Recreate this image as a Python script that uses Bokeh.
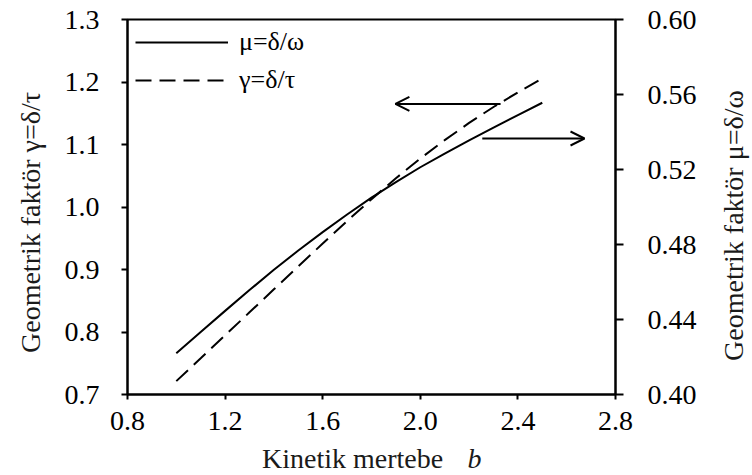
import math
from bokeh.plotting import figure
from bokeh.models import (Range1d, LinearAxis, FixedTicker, PrintfTickFormatter,
                          Legend, LegendItem, Label, Arrow, OpenHead)
from bokeh.embed import file_html
from bokeh.resources import INLINE

# ---- data ----
b_values = [1.0, 1.1, 1.2, 1.3, 1.4, 1.5, 1.6, 1.7, 1.8, 1.9, 2.0, 2.1, 2.2, 2.3, 2.4, 2.5]
mu_values = [0.4220, 0.4333, 0.4446, 0.4557, 0.4665, 0.4768, 0.4866, 0.4960,
             0.5050, 0.5133, 0.5212, 0.5285, 0.5355, 0.5423, 0.5490, 0.5556]
gamma_values = [0.7214, 0.7580, 0.7947, 0.8315, 0.8683, 0.9050, 0.9415, 0.9775,
                1.0125, 1.0460, 1.0775, 1.1070, 1.1345, 1.1600, 1.1835, 1.2055]

x_ticks = [0.8, 1.2, 1.6, 2.0, 2.4, 2.8]
left_ticks = [0.7, 0.8, 0.9, 1.0, 1.1, 1.2, 1.3]
right_ticks = [0.40, 0.44, 0.48, 0.52, 0.56, 0.60]

mu_label = "μ=δ/ω"
gamma_label = "γ=δ/τ"
x_title = "Kinetik mertebe"
x_title_var = "b"
left_title = "Geometrik faktör γ=δ/τ"
right_title = "Geometrik faktör μ=δ/ω"

FONT = "'Liberation Serif', 'Times New Roman', 'DejaVu Serif', serif"
TICK_SIZE = "28px"
TITLE_SIZE = "28px"
TITLE_COLOR = "#1a1a1a"

p = figure(width=752, height=475, output_backend="svg", toolbar_location=None,
           x_range=Range1d(0.8, 2.8), y_range=Range1d(0.7, 1.3),
           min_border_left=127, min_border_right=137,
           min_border_top=19, min_border_bottom=81)
p.extra_y_ranges = {"mu": Range1d(0.40, 0.60)}
p.grid.visible = False
p.outline_line_color = "black"
p.outline_line_width = 2
p.background_fill_color = "white"
p.border_fill_color = "white"

def style_axis(ax, ticks, fmt, tick_out, standoff):
    ax.ticker = FixedTicker(ticks=ticks)
    ax.formatter = PrintfTickFormatter(format=fmt)
    ax.major_tick_in = 0
    ax.major_tick_out = tick_out
    ax.minor_tick_line_color = None
    ax.axis_line_width = 2
    ax.major_tick_line_width = 2
    ax.axis_line_color = "black"
    ax.major_tick_line_color = "black"
    ax.major_label_text_font = FONT
    ax.major_label_text_font_size = TICK_SIZE
    ax.major_label_text_color = "black"
    ax.major_label_standoff = standoff

style_axis(p.xaxis[0], x_ticks, "%.1f", 5, 12)
style_axis(p.yaxis[0], left_ticks, "%.1f", 6, 22)

right_axis = LinearAxis(y_range_name="mu")
style_axis(right_axis, right_ticks, "%.2f", 8, 24)
p.add_layout(right_axis, "right")

r_mu = p.line(b_values, mu_values, y_range_name="mu", line_color="black", line_width=2)
r_g = p.line(b_values, gamma_values, line_color="black", line_width=2, line_dash="16 8")

legend = Legend(items=[LegendItem(label=mu_label, renderers=[r_mu]),
                       LegendItem(label=gamma_label, renderers=[r_g])],
                location="top_left", glyph_width=93, glyph_height=20,
                label_standoff=11, spacing=8, padding=3, margin=5,
                background_fill_alpha=0, border_line_alpha=0,
                label_text_font=FONT, label_text_font_size="26px",
                label_text_color="black")
p.add_layout(legend)

# arrows pointing to the axis each curve belongs to
p.add_layout(Arrow(end=OpenHead(size=14, line_width=2), line_width=2,
                   x_start=2.329, y_start=1.165, x_end=1.898, y_end=1.165))
p.add_layout(Arrow(end=OpenHead(size=14, line_width=2), line_width=2,
                   x_start=2.254, y_start=1.1096, x_end=2.673, y_end=1.1096))

def title_label(x, y, text, angle=0.0, align="center", baseline="middle", style="normal"):
    return Label(x=x, y=y, text=text, angle=angle, text_align=align,
                 text_baseline=baseline, text_font=FONT, text_font_style=style,
                 text_font_size=TITLE_SIZE, text_color=TITLE_COLOR)

# axis titles, placed in the side panels so that they are not clipped by the frame
p.add_layout(title_label(0.4025, 0.9752, left_title, angle=math.pi / 2), "left")
p.add_layout(title_label(2.1934, 0.5976, x_title_var, align="left", style="italic"), "right")
p.add_layout(title_label(3.2836, 0.9704, right_title, angle=math.pi / 2), "right")
p.add_layout(title_label(1.3512, 0.5976, x_title, align="left"), "below")

open("out.html", "w").write(file_html(p, INLINE))
